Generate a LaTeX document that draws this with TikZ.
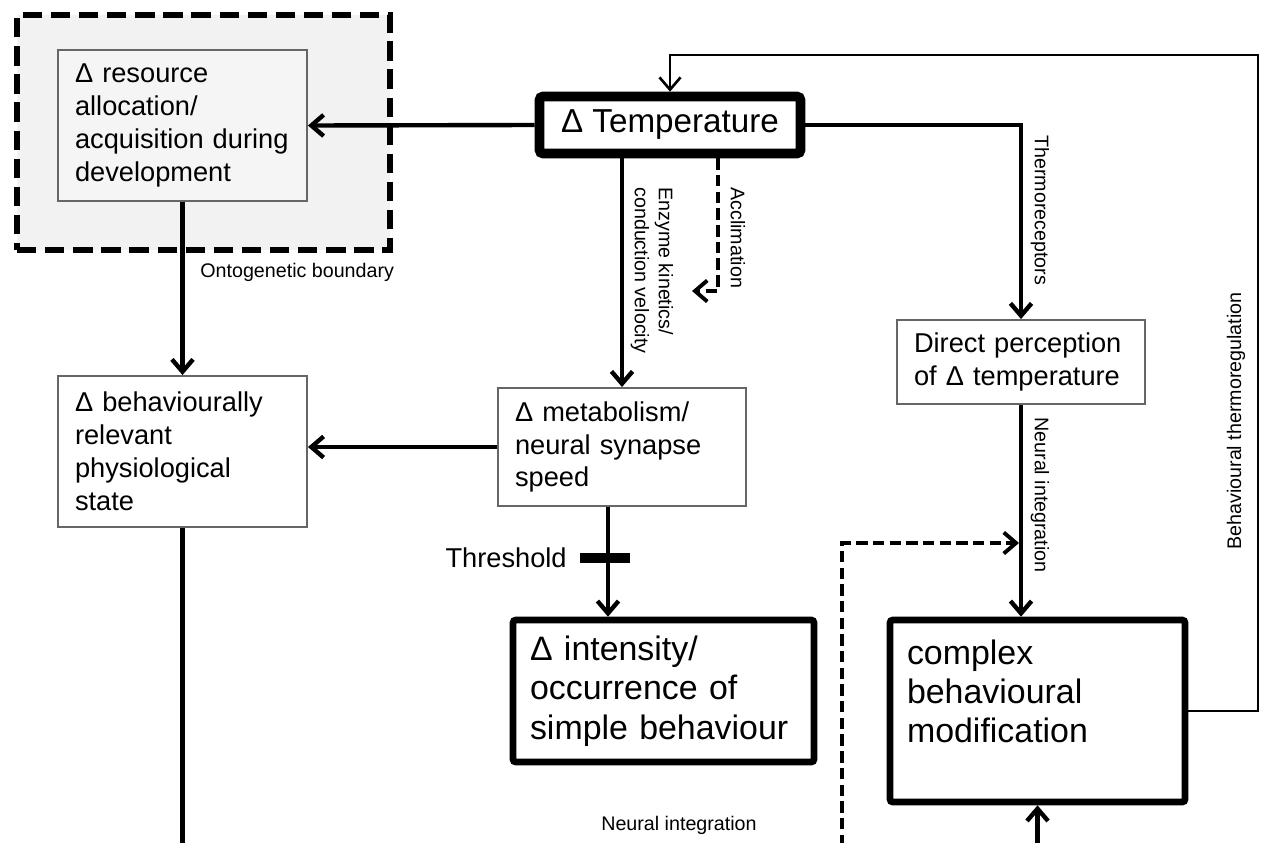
\documentclass[tikz,border=0pt]{standalone}
\usepackage{fontspec}
\setmainfont{Liberation Sans}
\usetikzlibrary{arrows.meta,positioning,calc}

\begin{document}
\begin{tikzpicture}[
  x=0.02cm, y=-0.02cm,
  >={Straight Barb[length=7pt,width=12pt]},
  box/.style={
    draw=black!60, line width=1.1pt, rectangle,
    inner xsep=0.34cm, inner ysep=0pt, align=left,
    font=\fontsize{15.5}{18.7}\selectfont, fill=white
  },
  bigbox/.style={
    draw, line width=3.8pt, rectangle, rounded corners=1.5pt,
    inner xsep=0.34cm, inner ysep=0pt, align=left,
    font=\fontsize{19.3}{22.4}\selectfont, fill=white
  },
  edge/.style={->, line width=2.5pt},
  dashedge/.style={->, line width=2.2pt, dash pattern=on 6.5pt off 3pt},
  small/.style={font=\fontsize{11.2}{13.6}\selectfont, inner sep=0pt}
]
\useasboundingbox (0,0) rectangle (1263,842);

% ontogenetic boundary
\node[draw, line width=3.2pt, dash pattern=on 11pt off 5pt, fill=black!5,
      minimum width=7.46cm, minimum height=4.7cm] (onto) at (203.5,132.5) {};
\node[small, anchor=west] (ontolbl) at (200,272) {Ontogenetic boundary};

% boxes
\node[box, fill=black!4, text width=4.3cm, minimum height=3.02cm] (res) at (182.5,125.5)
  {Δ resource\\allocation/\\acquisition during\\development};
\node[draw, line width=5.5pt, rounded corners=2pt, fill=white,
      minimum width=5.22cm, minimum height=1.14cm,
      font=\fontsize{18.9}{22}\selectfont] (temp) at (670,125) {Δ Temperature};
\node[box, text width=4.28cm, minimum height=2.36cm] (met) at (622,447)
  {Δ metabolism/\\neural synapse\\speed};
\node[box, text width=4.3cm, minimum height=3.02cm] (phys) at (182.5,451.5)
  {Δ behaviourally\\relevant\\physiological\\state};
\node[box, text width=4.28cm, minimum height=1.68cm] (perc) at (1021,362)
  {Direct perception\\of Δ temperature};
\node[bigbox, text width=5.34cm, minimum height=2.84cm] (intens) at (663.5,691)
  {Δ intensity/\\occurrence of\\simple behaviour};
\node[bigbox, text width=5.22cm, minimum height=3.64cm] (cplx) at (1037.5,711)
  {complex\\behavioural\\modification\\~};

% connectors
\draw[edge] (temp.west) -- (res.east);
\draw[edge] (res.south) -- (phys.north);
\draw[edge] (temp.south -| met.north) -- (met.north);
\node[small, rotate=-90, anchor=west, align=left] (enzlbl) at (652,187)
  {Enzyme kinetics/\\conduction velocity};

\coordinate (acc) at (692,291);
\draw[dashedge] ([xshift=0.96cm]temp.south) |- (acc);
\node[small, rotate=-90, anchor=west] (acclbl) at (738,187) {Acclimation};

\draw[edge] (temp.east) -| (perc.north);
\node[small, rotate=-90, anchor=west] (thermlbl) at (1040,135) {Thermoreceptors};

\draw[edge] (perc.south) -- (perc.south |- cplx.north);
\node[small, rotate=-90, anchor=west] (nilbl) at (1040,417) {Neural integration};

\draw[edge] (met.west) -- (met.west -| phys.east);

\draw[edge] ([xshift=-0.28cm]met.south) -- ([xshift=-0.28cm]met.south |- intens.north);
\node[fill=black, minimum width=1cm, minimum height=0.2cm, inner sep=0pt] (thr) at (605,558) {};
\node[anchor=east, inner sep=0pt, font=\fontsize{15.5}{18.7}\selectfont] (thrlbl) at (567,558) {Threshold};

% feedback loop
\coordinate (fbtop) at (1258,55);
\draw[edge, line width=1.5pt] (cplx.east) -| (fbtop) -| (temp.north);
\node[small, rotate=90] (btlbl) at (1236,421) {Behavioural thermoregulation};

% bottom
\coordinate (botline) at (600,845.5);
\draw[edge] (phys.south) |- (botline) -| (cplx.south);
\node[small] (nibot) at (679,825) {Neural integration};

\coordinate (dshbot) at (842,846);
\coordinate (dshend) at (1019,543);
\draw[dashedge] (dshbot) |- (dshend);

\end{tikzpicture}
\end{document}
